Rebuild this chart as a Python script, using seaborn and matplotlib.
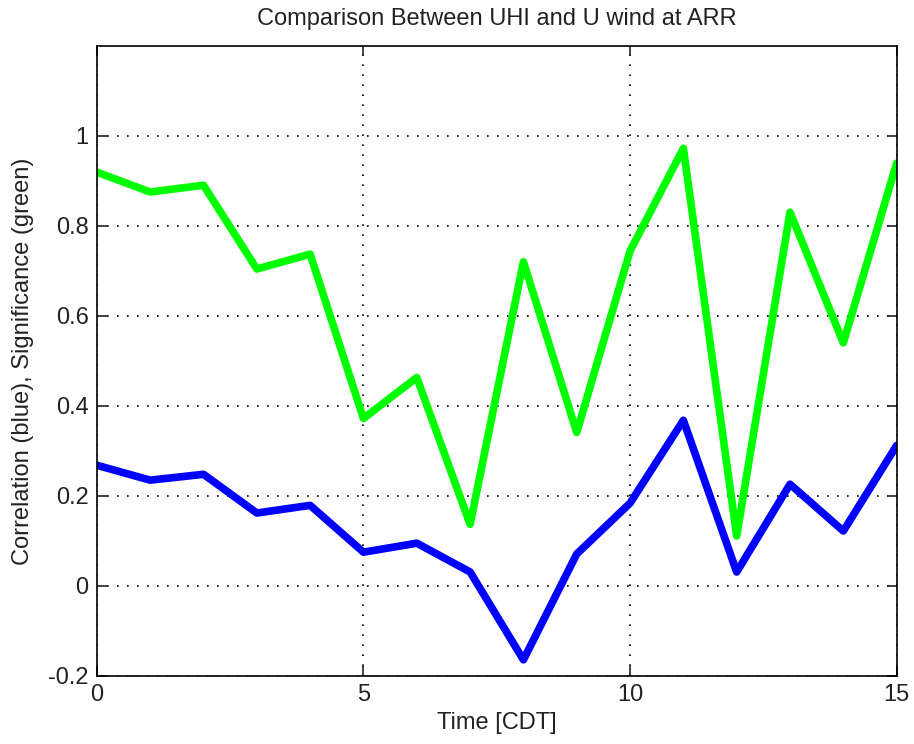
import numpy as np
import pandas as pd
import matplotlib
matplotlib.use("Agg")
import matplotlib.pyplot as plt
import seaborn as sns

# Hourly values, 0-15 CDT
hours = list(range(16))
correlation = [0.268, 0.235, 0.248, 0.162, 0.179, 0.075, 0.095, 0.031,
               -0.164, 0.071, 0.184, 0.368, 0.031, 0.226, 0.122, 0.312]
significance = [0.919, 0.875, 0.890, 0.704, 0.737, 0.372, 0.463, 0.137,
                0.720, 0.341, 0.744, 0.972, 0.111, 0.830, 0.540, 0.939]

x_ticks = [0, 5, 10, 15]
y_ticks = [-0.2, 0, 0.2, 0.4, 0.6, 0.8, 1]
y_ticklabels = ["-0.2", "0", "0.2", "0.4", "0.6", "0.8", "1"]

sns.set_theme(style="white")
plt.rcParams["font.family"] = ["Liberation Sans", "DejaVu Sans"]

df = pd.DataFrame({"hour": hours, "corr": correlation, "sig": significance})

fig = plt.figure(figsize=(9.14, 7.44), dpi=100)
ax = fig.add_axes([0.106, 0.0914, 0.875, 0.8472])

sns.lineplot(data=df, x="hour", y="corr", ax=ax, color="#0000ff", linewidth=5.5)
sns.lineplot(data=df, x="hour", y="sig", ax=ax, color="#00ff00", linewidth=5.5)

ax.set_xlim(0, 15)
ax.set_ylim(-0.2, 1.2)
ax.set_xticks(x_ticks)
ax.set_xticklabels([str(t) for t in x_ticks])
ax.set_yticks(y_ticks)
ax.set_yticklabels(y_ticklabels)

ax.grid(True, color="black", linestyle=(0, (1, 5)), linewidth=1.2)
ax.set_axisbelow(True)
for s in ax.spines.values():
    s.set_color("black")
    s.set_linewidth(1.2)
    s.set_visible(True)

ax.tick_params(axis="both", direction="in", length=7, width=1.2, colors="#222222",
               labelsize=17, top=True, right=True, bottom=True, left=True, pad=6)

ax.set_xlabel("Time [CDT]", fontsize=17, color="#222222", labelpad=4)
ax.set_ylabel("Correlation (blue), Significance (green)", fontsize=17,
              color="#222222", labelpad=10)
ax.set_title("Comparison Between UHI and U wind at ARR", fontsize=17,
             color="#222222", pad=15)

fig.savefig("out.png", dpi=100, facecolor="white")
